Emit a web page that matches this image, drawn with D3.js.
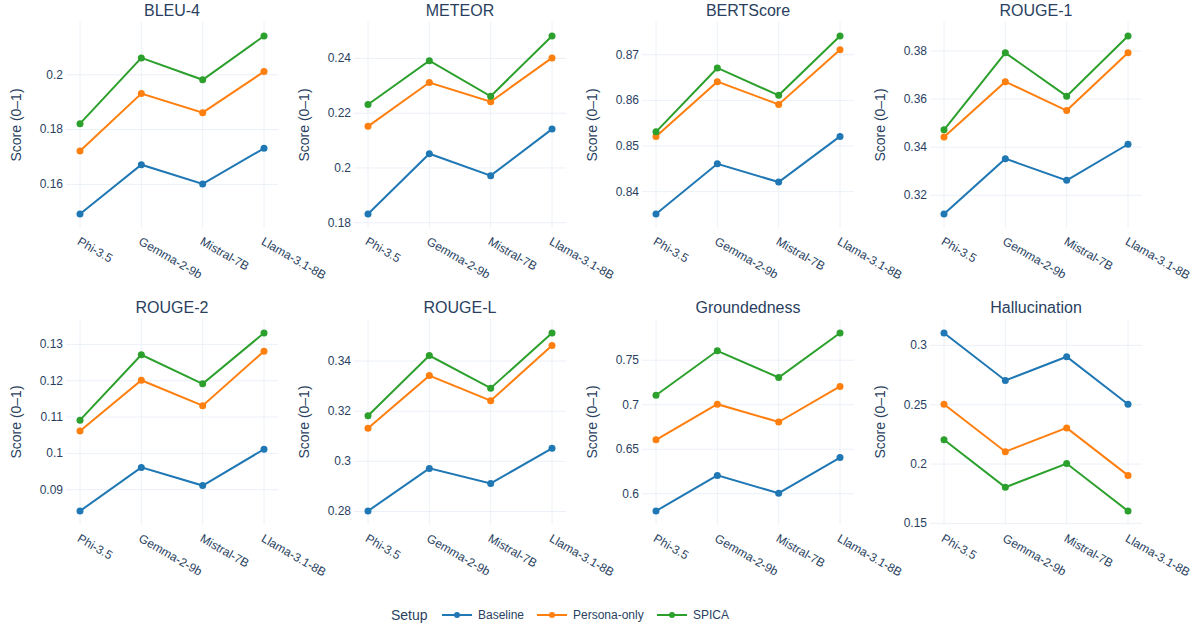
<!DOCTYPE html>
<html>
<head>
<meta charset="utf-8">
<script src="https://cdn.jsdelivr.net/npm/d3@7"></script>
<style>
  body { margin: 0; background: #fff; }
  svg { font-family: "Liberation Sans", Arial, sans-serif; }
</style>
</head>
<body>
<svg id="chart" width="1200" height="630"></svg>
<script>
// models on the x axis
const models = ["Phi-3.5", "Gemma-2-9b", "Mistral-7B", "Llama-3.1-8B"];
const setups = ["Baseline", "Persona-only", "SPICA"];
const metrics = ["BLEU-4", "METEOR", "BERTScore", "ROUGE-1", "ROUGE-2", "ROUGE-L", "Groundedness", "Hallucination"];

// scores per metric, one array per setup (Phi, Gemma, Mistral, Llama)
const baseline = {
  "BLEU-4": [0.149, 0.167, 0.160, 0.173],
  "METEOR": [0.183, 0.205, 0.197, 0.214],
  "BERTScore": [0.835, 0.846, 0.842, 0.852],
  "ROUGE-1": [0.312, 0.335, 0.326, 0.341],
  "ROUGE-2": [0.084, 0.096, 0.091, 0.101],
  "ROUGE-L": [0.280, 0.297, 0.291, 0.305],
  "Groundedness": [0.58, 0.62, 0.60, 0.64],
  "Hallucination": [0.31, 0.27, 0.29, 0.25]
};
const personaOnly = {
  "BLEU-4": [0.172, 0.193, 0.186, 0.201],
  "METEOR": [0.215, 0.231, 0.224, 0.240],
  "BERTScore": [0.852, 0.864, 0.859, 0.871],
  "ROUGE-1": [0.344, 0.367, 0.355, 0.379],
  "ROUGE-2": [0.106, 0.120, 0.113, 0.128],
  "ROUGE-L": [0.313, 0.334, 0.324, 0.346],
  "Groundedness": [0.66, 0.70, 0.68, 0.72],
  "Hallucination": [0.25, 0.21, 0.23, 0.19]
};
const spica = {
  "BLEU-4": [0.182, 0.206, 0.198, 0.214],
  "METEOR": [0.223, 0.239, 0.226, 0.248],
  "BERTScore": [0.853, 0.867, 0.861, 0.874],
  "ROUGE-1": [0.347, 0.379, 0.361, 0.386],
  "ROUGE-2": [0.109, 0.127, 0.119, 0.133],
  "ROUGE-L": [0.318, 0.342, 0.329, 0.351],
  "Groundedness": [0.71, 0.76, 0.73, 0.78],
  "Hallucination": [0.22, 0.18, 0.20, 0.16]
};

const seriesData = [baseline, personaOnly, spica];
const colors = ["#1f77b4", "#ff7f0e", "#2ca02c"];
const textColor = "#2a3f5f";
const gridColor = "#ebf0f8";

const svg = d3.select("#chart");

// panel layout
const panelW = 212, panelH = 206;
const lefts = [66, 354, 642, 930];
const tops = [22, 319];
const pad = 14; // marker padding like plotly autorange

const fmt = v => String(+v.toFixed(4));

metrics.forEach((m, i) => {
  const col = i % 4, row = Math.floor(i / 4);
  const g = svg.append("g").attr("transform", `translate(${lefts[col]},${tops[row]})`);

  const x = d3.scalePoint()
    .domain(models)
    .range([pad, panelW - pad]);

  const all = seriesData.flatMap(s => s[m]);
  const lo = d3.min(all), hi = d3.max(all);
  const ext = (hi - lo) * pad / (panelH - 2 * pad);
  const y = d3.scaleLinear()
    .domain([lo - ext, hi + ext])
    .range([panelH, 0]);

  // vertical grid
  g.append("g")
    .selectAll("line")
    .data(models)
    .enter().append("line")
    .attr("x1", d => x(d)).attr("x2", d => x(d))
    .attr("y1", 0).attr("y2", panelH)
    .style("stroke", gridColor)
    .style("stroke-width", 1);

  // horizontal grid + y axis labels
  const yAxis = g.append("g")
    .call(d3.axisLeft(y)
      .ticks(5)
      .tickSize(-panelW)
      .tickPadding(3)
      .tickFormat(fmt));
  yAxis.select(".domain").remove();
  yAxis.selectAll("line").style("stroke", gridColor);
  yAxis.selectAll("text")
    .style("font-size", "12px")
    .style("font-family", "Liberation Sans, Arial, sans-serif")
    .style("fill", textColor);

  // x labels, rotated
  g.append("g")
    .selectAll("text")
    .data(models)
    .enter().append("text")
    .attr("transform", d => `translate(${x(d) + 1},${panelH + 8}) rotate(30)`)
    .attr("dy", "0.75em")
    .style("font-size", "12px")
    .style("fill", textColor)
    .text(d => d);

  // lines and dots
  const line = d3.line()
    .x((d, j) => x(models[j]))
    .y(d => y(d));

  seriesData.forEach((s, k) => {
    g.append("path")
      .datum(s[m])
      .attr("d", line)
      .style("fill", "none")
      .style("stroke", colors[k])
      .style("stroke-width", 2);

    g.selectAll(".dot" + k)
      .data(s[m])
      .enter().append("circle")
      .attr("class", "dot" + k)
      .attr("cx", (d, j) => x(models[j]))
      .attr("cy", d => y(d))
      .attr("r", 3.5)
      .style("fill", colors[k]);
  });

  // subplot title
  g.append("text")
    .attr("x", panelW / 2)
    .attr("y", -6)
    .attr("text-anchor", "middle")
    .style("font-size", "16px")
    .style("fill", textColor)
    .text(m);

  // y title
  g.append("text")
    .attr("transform", `translate(-45,${panelH / 2}) rotate(-90)`)
    .attr("text-anchor", "middle")
    .style("font-size", "14px")
    .style("fill", textColor)
    .text("Score (0\u20131)");
});

// legend
const legend = svg.append("g").attr("transform", "translate(0,615)");
legend.append("text")
  .attr("x", 391)
  .attr("dy", "0.35em")
  .style("font-size", "14px")
  .style("fill", textColor)
  .text("Setup");

const legendX = [442, 537, 657];
setups.forEach((name, k) => {
  const lg = legend.append("g").attr("transform", `translate(${legendX[k]},0)`);
  lg.append("line")
    .attr("x1", 0).attr("x2", 30)
    .style("stroke", colors[k])
    .style("stroke-width", 2);
  lg.append("circle")
    .attr("cx", 15)
    .attr("r", 3)
    .style("fill", colors[k]);
  lg.append("text")
    .attr("x", 36)
    .attr("dy", "0.35em")
    .style("font-size", "12px")
    .style("fill", textColor)
    .text(name);
});
</script>
</body>
</html>
